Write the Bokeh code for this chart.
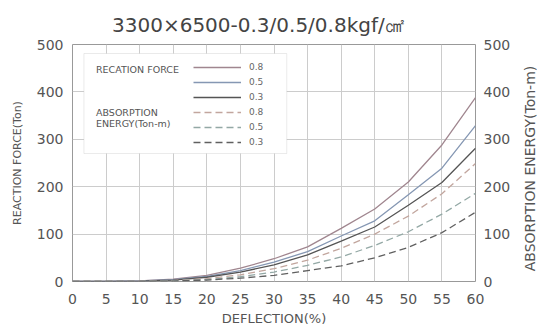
import math
from bokeh.plotting import figure
from bokeh.models import (Range1d, LinearAxis, SingleIntervalTicker, Legend, LegendItem,
                          BoxAnnotation, Label, Title)
from bokeh.embed import file_html
from bokeh.resources import INLINE

# ---- data ----
deflection = [0, 5, 10, 15, 20, 25, 30, 35, 40, 45, 50, 55, 60]
rf_08 = [0, 0.3, 1.5, 5, 13, 28, 48, 73, 112, 153, 210, 288, 388]
rf_05 = [0, 0.2, 1.2, 4, 11, 23, 41, 63, 96, 128, 183, 239, 329]
rf_03 = [0, 0.1, 1.0, 3, 9, 20, 35, 56, 85, 115, 161, 209, 281]
ae_08 = [0, 0, 0.5, 2, 6, 14, 27, 45, 70, 100, 138, 185, 249]
ae_05 = [0, 0, 0.3, 1.5, 4, 10, 20, 34, 52, 76, 105, 142, 186]
ae_03 = [0, 0, 0.2, 1.0, 3, 7, 13, 23, 33, 50, 72, 103, 146]
pressure_labels = ["0.8", "0.5", "0.3"]

TITLE = "3300×6500-0.3/0.5/0.8kgf/㎠"
X_LABEL = "DEFLECTION(%)"
Y_LABEL = "REACTION FORCE(Ton)"
Y2_LABEL = "ABSORPTION ENERGY(Ton-m)"
FONT = "DejaVu Sans"
TXT = "#555555"

p = figure(width=537, height=328, output_backend="svg", toolbar_location=None,
           x_range=Range1d(0, 60), y_range=Range1d(0, 500),
           min_border_left=72, min_border_right=62, min_border_top=44, min_border_bottom=46)
p.extra_y_ranges = {"ae": Range1d(0, 500)}

p.title = Title(text=TITLE, align="left", offset=39.5, text_font=FONT, text_font_size="20px",
                text_color="#444444", text_font_style="normal", standoff=15)

p.outline_line_color = "#999999"
p.background_fill_color = "white"
p.border_fill_color = "white"
p.xgrid.grid_line_color = "#cccccc"
p.ygrid.grid_line_color = "#cccccc"

def style_axis(ax, font_size="14px"):
    ax.axis_line_color = None
    ax.major_tick_line_color = None
    ax.minor_tick_line_color = None
    ax.major_tick_out = 0
    ax.major_tick_in = 0
    ax.major_label_text_font = FONT
    ax.major_label_text_font_size = font_size
    ax.major_label_text_color = TXT
    ax.axis_label_text_font = FONT
    ax.axis_label_text_font_style = "normal"
    ax.axis_label_text_color = TXT

p.xaxis.ticker = SingleIntervalTicker(interval=5)
p.yaxis.ticker = SingleIntervalTicker(interval=100)
style_axis(p.xaxis[0])
style_axis(p.yaxis[0])
p.xaxis.axis_label = X_LABEL
p.xaxis.axis_label_text_font_size = "13px"
p.xaxis.major_label_standoff = 8
p.xaxis.axis_label_standoff = 4
p.yaxis.axis_label = Y_LABEL
p.yaxis.axis_label_text_font_size = "11px"
p.yaxis.major_label_standoff = 5
p.yaxis.axis_label_standoff = 10

right = LinearAxis(y_range_name="ae", ticker=SingleIntervalTicker(interval=100))
style_axis(right)
right.major_label_standoff = 4
p.add_layout(right, "right")

# right-hand axis title, reading bottom-to-top, in its own side panel
p.add_layout(Label(x=16, y=113, x_units="screen", y_units="screen", text=Y2_LABEL,
                   angle=math.pi / 2, text_font=FONT, text_font_size="14px", text_color=TXT,
                   text_align="center", text_baseline="middle"), "right")

# legend frame (white box hiding the grid)
box = BoxAnnotation(left=1.7, right=31.9, top=481, bottom=270,
                    fill_color="white", fill_alpha=1.0,
                    line_color="#bbbbbb", line_width=1, level="underlay")
p.add_layout(box)

rf_colors = ["#a0868f", "#8597b3", "#555555"]
ae_colors = ["#c2a69e", "#93a8a5", "#606060"]

rf_series = [rf_08, rf_05, rf_03]
ae_series = [ae_08, ae_05, ae_03]

items = []
for lab, ys, c in zip(pressure_labels, rf_series, rf_colors):
    r = p.line(deflection, ys, line_color=c, line_width=1.3)
    items.append(LegendItem(label=lab, renderers=[r]))
for lab, ys, c in zip(pressure_labels, ae_series, ae_colors):
    r = p.line(deflection, ys, line_color=c, line_width=1.3, line_dash="7 4",
               y_range_name="ae")
    items.append(LegendItem(label=lab, renderers=[r]))

legend = Legend(items=items, location=(121, 134), padding=0, margin=0, spacing=5,
                glyph_width=48, glyph_height=10, label_height=10, label_standoff=8,
                label_text_font=FONT, label_text_font_size="9px", label_text_color="#666666",
                border_line_color=None, background_fill_alpha=0)
p.add_layout(legend, "center")

for txt, yv in [("RECATION FORCE", 447), ("ABSORPTION", 357), ("ENERGY(Ton-m)", 334)]:
    p.add_layout(Label(x=3.5, y=yv, text=txt, text_font=FONT, text_font_size="9.5px",
                       text_color="#555555", text_baseline="middle", text_align="left"))

open("out.html", "w").write(file_html(p, INLINE))
